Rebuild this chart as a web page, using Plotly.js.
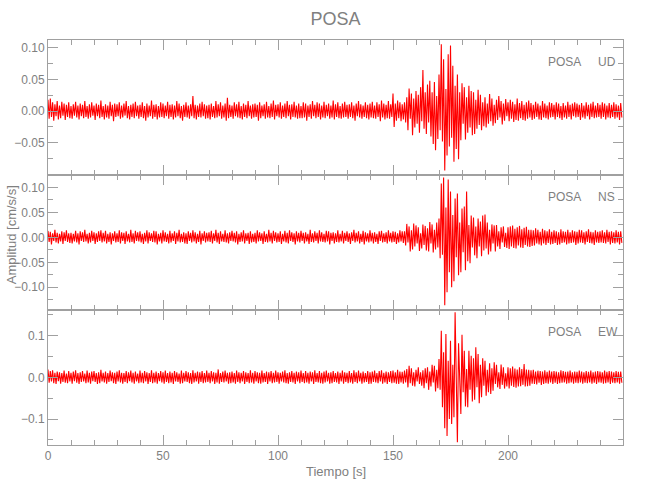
<!DOCTYPE html>
<html>
<head>
<meta charset="utf-8">
<script src="https://cdn.plot.ly/plotly-3.0.1.min.js"></script>
<style>html,body{margin:0;padding:0;background:#fff;}#chart{width:650px;height:500px;}</style>
</head>
<body>
<div id="chart"></div>
<script>
// Sample values, in thousandths of cm/s/s, one every 0.5 s from t = 0 s
var UNIT = 0.001;
var T0 = 0, DT = 0.5;

var udValues = [
18,-12,20,-9,14,-15,11,-8,16,-13,9,-11,15,-7,12,-14,10,-9,14,-11,
8,-12,11,-7,15,-10,9,-13,12,-8,10,-11,16,-9,8,-12,11,-10,14,-7,
9,-14,12,-8,10,-11,17,-9,8,-13,11,-10,9,-12,15,-8,10,-16,12,-9,
11,-8,14,-12,9,-10,12,-7,16,-11,8,-13,10,-9,12,-11,15,-8,9,-12,
10,-9,14,-11,8,-15,12,-10,9,-8,17,-12,10,-9,11,-13,8,-10,14,-9,
12,-11,9,-8,15,-12,10,-9,11,-13,9,-10,16,-8,12,-11,8,-15,10,-9,
14,-10,9,-12,11,-8,24,-11,10,-13,9,-9,12,-10,15,-8,11,-12,9,-11,
10,-13,12,-9,8,-11,16,-10,11,-8,14,-12,9,-10,12,-15,21,-11,10,-9,
9,-12,14,-8,11,-10,15,-11,8,-13,12,-9,10,-11,16,-8,9,-12,11,-10,
12,-9,10,-15,14,-11,9,-8,11,-12,15,-10,8,-11,12,-9,17,-13,10,-8,
11,-10,14,-12,9,-9,12,-11,16,-8,10,-13,11,-9,15,-10,9,-12,12,-11,
8,-11,14,-10,12,-15,9,-9,11,-12,16,-8,10,-11,14,-9,12,-13,9,-10,
15,-11,10,-8,12,-12,9,-10,17,-13,11,-9,14,-11,8,-12,12,-10,15,-9,
10,-12,11,-9,14,-11,9,-15,12,-8,16,-10,11,-12,9,-9,14,-11,10,-13,
12,-10,15,-11,9,-12,14,-9,11,-16,17,-10,12,-13,10,-11,16,-12,11,-9,
28,-25,12,-15,17,-11,14,-16,11,-13,
14,-18,22,-30,36,-12,28,-38,20,-26,
32,-20,26,-34,38,-16,65,-28,30,-36,
42,-18,48,-40,30,-52,46,-62,24,-44,
58,-30,106,-48,82,-94,35,-70,90,-56,
104,-42,72,-80,40,-60,58,-76,30,-46,
44,-20,38,-45,22,-34,40,-26,32,-38,
30,-36,18,-28,34,-22,26,-30,14,-24,
22,-26,12,-20,27,-16,20,-23,10,-19,
18,-14,24,-10,16,-21,12,-15,19,-8,
14,-16,18,-12,15,-17,11,-14,20,-15,13,-11,16,-14,10,-15,14,-12,17,-10,
13,-14,10,-12,15,-9,12,-13,9,-14,16,-10,12,-11,9,-13,14,-10,13,-9,
10,-13,14,-9,12,-11,8,-14,13,-10,9,-12,15,-9,10,-13,12,-8,14,-10,
12,-9,10,-14,13,-10,9,-12,14,-8,10,-13,12,-9,15,-11,9,-10,13,-9,
10,-12,14,-9,12,-13,9,-10,13,-11,10,-9,14,-12,11,-10,9,-14,13,-10
];

var nsValues = [
13,-9,11,-14,8,-7,15,-10,9,-12,7,-8,12,-13,10,-7,14,-9,8,-11,
9,-12,7,-8,13,-10,8,-14,12,-7,10,-9,15,-8,7,-12,9,-10,13,-7,
10,-13,8,-9,12,-7,14,-10,9,-8,13,-12,7,-9,10,-14,8,-7,12,-10,
8,-9,14,-12,10,-7,9,-13,12,-8,7,-10,15,-9,8,-12,13,-7,10,-8,
12,-10,7,-13,9,-8,14,-12,10,-7,8,-9,13,-10,12,-14,7,-8,9,-12,
14,-8,10,-9,7,-12,13,-10,8,-7,12,-13,9,-8,15,-10,7,-9,10,-12,
8,-13,12,-7,9,-10,14,-8,10,-12,7,-9,13,-14,8,-7,12,-10,9,-8,
10,-9,13,-12,8,-7,15,-10,9,-13,12,-8,7,-9,14,-10,8,-12,10,-7,
13,-8,9,-10,12,-14,7,-9,10,-8,14,-12,8,-7,9,-13,12,-10,7,-9,
9,-12,14,-8,10,-7,8,-13,12,-9,7,-10,15,-8,9,-12,13,-7,10,-10,
8,-9,12,-13,7,-8,13,-10,9,-12,14,-7,10,-9,8,-14,12,-8,9,-10,
13,-7,9,-12,10,-8,7,-13,15,-9,8,-10,12,-7,9,-12,14,-8,10,-9,
7,-10,13,-8,12,-14,9,-7,10,-12,8,-9,14,-10,7,-8,13,-12,9,-7,
12,-9,8,-13,10,-7,15,-10,9,-8,12,-12,7,-9,13,-14,10,-8,8,-10,
14,-8,9,-12,10,-9,7,-13,12,-7,13,-10,8,-9,10,-12,14,-8,9,-10,
12,-9,11,-13,8,-10,14,-8,12,-11,
12,-16,27,-10,22,-28,14,-24,28,-18,
24,-12,20,-27,8,-22,26,-15,23,-26,
18,-28,31,-12,26,-30,15,-24,30,-20,
38,-42,108,-35,120,-136,60,-110,116,-70,
92,-100,45,-88,78,-40,88,-76,30,-70,
58,-30,62,-66,92,-48,25,-52,44,-20,
40,-36,22,-42,38,-18,32,-38,44,-26,
46,-22,30,-34,15,-28,26,-12,24,-28,
25,-18,12,-23,20,-10,22,-19,9,-21,
20,-23,22,-18,24,-21,17,-22,20,-16,23,-20,16,-21,19,-15,21,-18,15,-19,
15,-17,14,-16,18,-12,15,-14,11,-16,17,-12,14,-15,12,-11,16,-14,11,-13,
14,-11,12,-15,10,-14,16,-11,12,-10,11,-14,15,-12,10,-11,14,-10,12,-15,
11,-12,15,-10,14,-11,10,-14,12,-9,16,-11,11,-12,10,-15,14,-10,11,-11,
12,-10,14,-11,10,-12,15,-9,11,-14,12,-11,10,-12,14,-10,11,-14,12,-11
];

var ewValues = [
19,-13,15,-10,17,-14,11,-16,14,-9,12,-15,10,-11,16,-13,9,-14,15,-10,
11,-15,14,-9,17,-13,10,-16,12,-11,15,-10,9,-14,16,-12,11,-15,14,-9,
15,-11,10,-16,12,-14,18,-10,11,-12,14,-15,10,-11,16,-9,12,-14,11,-16,
14,-10,17,-12,11,-15,10,-11,15,-14,12,-9,16,-12,11,-15,14,-10,9,-14,
16,-12,11,-14,15,-10,12,-16,10,-11,17,-14,11,-12,14,-15,10,-9,15,-12,
12,-15,16,-11,10,-14,14,-12,11,-16,15,-10,12,-11,9,-15,16,-14,11,-10,
15,-11,12,-14,10,-16,17,-12,11,-10,14,-15,12,-11,15,-14,10,-12,16,-11,
11,-14,15,-10,12,-16,11,-12,19,-15,10,-11,14,-12,16,-10,11,-15,12,-14,
14,-12,10,-15,16,-11,12,-14,11,-10,15,-16,12,-11,10,-14,17,-12,11,-15,
15,-10,12,-14,11,-15,16,-12,10,-11,14,-16,12,-10,15,-14,11,-12,16,-11,
12,-15,11,-10,14,-12,17,-14,10,-15,12,-11,15,-12,11,-16,14,-10,12,-14,
16,-11,10,-14,15,-12,11,-15,14,-10,12,-16,17,-11,10,-12,15,-14,11,-15,
14,-12,16,-10,11,-15,12,-14,15,-11,10,-12,14,-16,11,-10,16,-15,12,-11,
11,-14,15,-12,10,-15,17,-11,12,-14,16,-10,11,-15,14,-12,10,-11,15,-16,
12,-15,14,-11,16,-12,10,-14,15,-10,17,-15,11,-12,14,-16,12,-11,15,-14,
16,-13,12,-15,18,-16,14,-12,13,-15,
16,-12,20,-24,28,-14,22,-20,12,-22,
18,-10,24,-16,12,-20,17,-26,22,-14,
24,-30,14,-22,30,-12,28,-34,18,-26,
44,-30,112,-72,60,-122,104,-141,40,-100,
88,-112,30,-96,156,-70,-156,82,-40,-88,
102,-36,64,-70,20,-72,64,-30,52,-58,
46,-54,72,-24,56,-62,30,-48,46,-20,
40,-44,18,-36,34,-40,22,-32,36,-16,
30,-24,12,-28,31,-18,24,-27,10,-22,
24,-27,22,-20,26,-23,21,-25,19,-22,24,-21,20,-18,32,-22,19,-21,18,-20,
17,-15,18,-16,14,-17,16,-13,15,-18,14,-16,17,-14,13,-15,16,-12,14,-16,
15,-13,14,-16,12,-14,17,-13,15,-12,13,-15,14,-14,16,-12,12,-15,14,-13,
13,-14,16,-12,14,-15,12,-13,15,-14,13,-12,16,-15,12,-13,14,-16,15,-12,
14,-13,12,-15,16,-14,13,-12,15,-16,14,-13,12,-14,15,-12,13,-15,14,-13
];

var stationName = 'POSA';
var componentNames = ['UD', 'NS', 'EW'];
var xTickVals = [0, 50, 100, 150, 200];
var udTickVals = [-0.05, 0, 0.05, 0.10];
var nsTickVals = [-0.10, -0.05, 0, 0.05, 0.10];
var ewTickVals = [-0.1, 0, 0.1];

var FONT = '"Liberation Sans", Arial, sans-serif';
var GREY = '#a0a0a0';
var TXT = '#808080';

function toUnits(arr) { return arr.map(function (v) { return v * UNIT; }); }

function trace(vals, xa, ya) {
  return {
    type: 'scatter', mode: 'lines',
    x0: T0, dx: DT, y: toUnits(vals),
    xaxis: xa, yaxis: ya,
    line: {color: '#ff0000', width: 1.1},
    hoverinfo: 'skip', showlegend: false
  };
}

var data = [
  trace(udValues, 'x3', 'y3'),
  trace(nsValues, 'x2', 'y2'),
  trace(ewValues, 'x', 'y')
];

function xAxis(anchor, labels) {
  return {
    anchor: anchor, range: [0, 250], domain: [0, 1],
    tickmode: 'array', tickvals: xTickVals, showticklabels: labels,
    ticks: 'inside', ticklen: 10, tickcolor: GREY, tickwidth: 1,
    minor: {tickmode: 'linear', tick0: 0, dtick: 10, ticks: 'inside', ticklen: 5, tickcolor: GREY, tickwidth: 1},
    showline: true, linecolor: GREY, linewidth: 1, mirror: 'ticks',
    showgrid: false, zeroline: false,
    tickfont: {family: FONT, size: 12, color: TXT}
  };
}

function yAxis(anchor, domain, range, vals, fmt, minorStep) {
  return {
    anchor: anchor, domain: domain, range: range,
    tickmode: 'array', tickvals: vals, tickformat: fmt,
    ticks: 'inside', ticklen: 10, tickcolor: GREY, tickwidth: 1,
    minor: {tickmode: 'linear', tick0: 0, dtick: minorStep, ticks: 'inside', ticklen: 5, tickcolor: GREY, tickwidth: 1},
    showline: true, linecolor: GREY, linewidth: 1, mirror: 'ticks',
    showgrid: false, zeroline: false,
    tickfont: {family: FONT, size: 12, color: TXT}
  };
}

function compLabel(yref, name) {
  return [
    {xref: 'paper', yref: yref + ' domain', x: 0.930, y: 0.84, xanchor: 'right', yanchor: 'middle',
     text: stationName, showarrow: false, font: {family: FONT, size: 12, color: TXT}},
    {xref: 'paper', yref: yref + ' domain', x: 0.953, y: 0.84, xanchor: 'left', yanchor: 'middle',
     text: name, showarrow: false, font: {family: FONT, size: 12, color: TXT}}
  ];
}

var annotations = []
  .concat(compLabel('y3', componentNames[0]))
  .concat(compLabel('y2', componentNames[1]))
  .concat(compLabel('y', componentNames[2]))
  .concat([
    {xref: 'paper', yref: 'paper', x: 0.5, y: -0.066, xanchor: 'center', yanchor: 'middle',
     text: 'Tiempo [s]', showarrow: false, font: {family: FONT, size: 13, color: TXT}},
    {xref: 'paper', yref: 'paper', x: -0.063, y: 0.52, xanchor: 'center', yanchor: 'middle', textangle: -90,
     text: 'Amplitud [cm/s/s]', showarrow: false, font: {family: FONT, size: 13, color: TXT}}
  ]);

var layout = {
  width: 650, height: 500,
  margin: {l: 48, r: 27, t: 40, b: 55},
  paper_bgcolor: '#ffffff', plot_bgcolor: '#ffffff',
  title: {text: stationName, x: 0.5, xref: 'paper', y: 0.963, yref: 'container', yanchor: 'middle',
          font: {family: FONT, size: 18, color: TXT}},
  showlegend: false,
  xaxis: xAxis('y', true),
  xaxis2: xAxis('y2', false),
  xaxis3: xAxis('y3', false),
  yaxis: yAxis('x', [0, 0.3333], [-0.1624, 0.1616], ewTickVals, '.1f', 0.05),
  yaxis2: yAxis('x2', [0.3333, 0.6667], [-0.1455, 0.125], nsTickVals, '.2f', 0.025),
  yaxis3: yAxis('x3', [0.6667, 1], [-0.101, 0.1126], udTickVals, '.2f', 0.025),
  annotations: annotations
};

Plotly.newPlot('chart', data, layout, {displayModeBar: false, staticPlot: true});
</script>
</body>
</html>
